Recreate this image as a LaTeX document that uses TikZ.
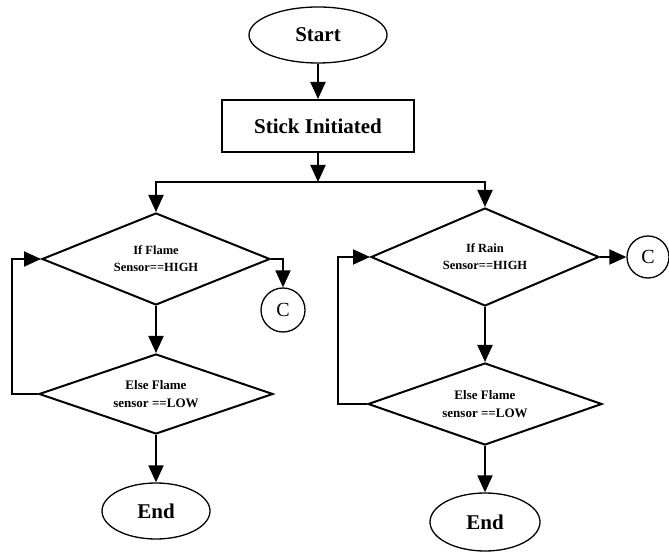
\documentclass[tikz,border=0pt]{standalone}
\usepackage{fontspec}
\setmainfont{Liberation Serif}
\usetikzlibrary{shapes.geometric,arrows.meta,positioning}

\begin{document}
\begin{tikzpicture}[x=1pt, y=1pt, line width=2pt,
    arr/.style={-{Triangle[length=17pt,width=15pt]}},
    term/.style={draw, ellipse, line width=1.3pt, minimum height=56pt, inner sep=0pt, font=\fontsize{21}{24}\selectfont\bfseries},
    cond/.style={draw, diamond, aspect=2.5, inner sep=0pt, align=center},
    conn/.style={draw, circle, line width=1.3pt, minimum size=44pt, inner sep=0pt, font=\fontsize{20}{24}\selectfont}]
    \useasboundingbox (0,0) rectangle (669,552);

    \node (start) [term, minimum width=138pt] at (318,517) {Start};
    \node (init) [draw, below of=start, node distance=91pt, minimum width=192pt, minimum height=52pt,
        font=\fontsize{21}{24}\selectfont\bfseries] {Stick Initiated};
    \coordinate (jn) at (318,370);

    % flame side
    \node (fl1) [cond, minimum width=228pt, minimum height=92pt, font=\fontsize{12.5}{17}\selectfont\bfseries]
        at (156,293) {If Flame\\Sensor==HIGH};
    \node (fl2) [cond, below of=fl1, node distance=135pt, minimum width=234pt, minimum height=80pt,
        font=\fontsize{13}{18}\selectfont\bfseries] {Else Flame\\sensor ==LOW};
    \node (endl) [term, below of=fl2, node distance=117pt, minimum width=108pt] {End};
    \node (cl) [conn] at (283,242) {C};
    \coordinate (lloop) at (12,158);

    % rain side
    \node (rn1) [cond, minimum width=228pt, minimum height=98pt, font=\fontsize{12.5}{17}\selectfont\bfseries]
        at (485,295) {If Rain\\Sensor==HIGH};
    \node (rn2) [cond, below of=rn1, node distance=147pt, minimum width=234pt, minimum height=82pt,
        font=\fontsize{13}{18}\selectfont\bfseries] {Else Flame\\sensor ==LOW};
    \node (endr) [term, below of=rn2, node distance=118pt, minimum width=110pt, minimum height=58pt] {End};
    \node (cr) [conn, minimum size=42pt] at (648,295) {C};
    \coordinate (rloop) at (338,148);

    \draw[arr] (start) -- (init);
    \draw[arr] (init) -- (jn);
    \draw[arr] (jn) -| (fl1);
    \draw[arr] (jn) -| (rn1);

    \draw[arr] (fl1) -- (fl2);
    \draw[arr] (fl2) -- (endl);
    \draw[arr] (fl1.east) -| (cl);
    \draw[arr] (fl2.west) -- (lloop) |- (fl1.west);

    \draw[arr] (rn1) -- (rn2);
    \draw[arr] (rn2) -- (endr);
    \draw[arr] (rn1.east) -- (cr);
    \draw[arr] (rn2.west) -- (rloop) |- (rn1.west);
\end{tikzpicture}
\end{document}
